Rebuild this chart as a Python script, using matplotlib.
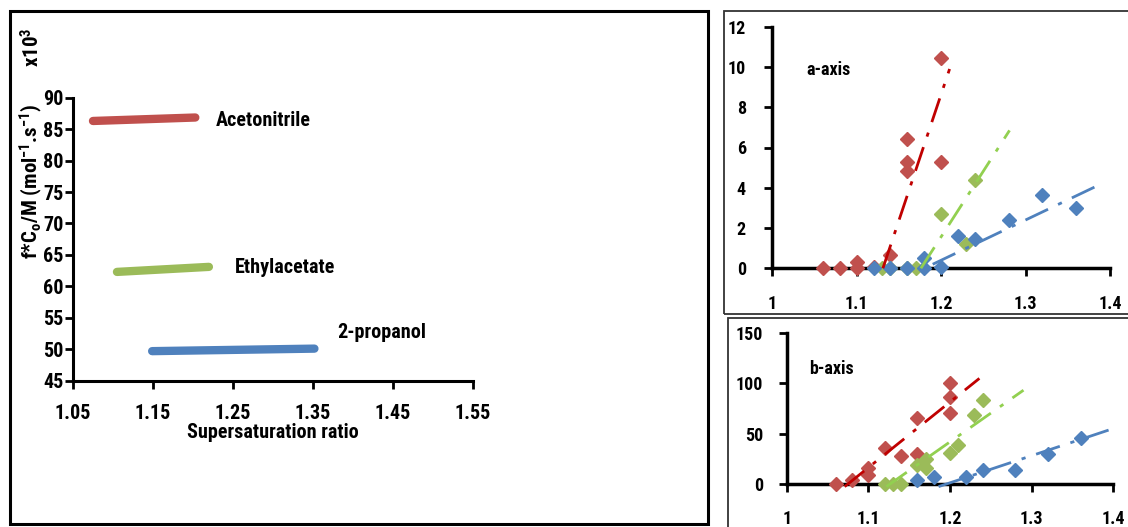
import matplotlib
matplotlib.use("Agg")
import matplotlib.pyplot as plt
from matplotlib.patches import Rectangle

FONT = 'Roboto Condensed'
plt.rcParams['font.family'] = [FONT, 'DejaVu Sans']
plt.rcParams['font.weight'] = 'bold'
plt.rcParams['mathtext.fontset'] = 'custom'
plt.rcParams['mathtext.rm'] = FONT + ':bold'
plt.rcParams['mathtext.it'] = FONT + ':bold'
plt.rcParams['mathtext.bf'] = FONT + ':bold'

# ---------------- data: left panel (fitted lines) ----------------
solvents = ['Acetonitrile', 'Ethylacetate', '2-propanol']
line_x = [[1.075, 1.203], [1.105, 1.220], [1.149, 1.352]]
line_y = [[86.3, 86.85], [62.3, 63.1], [49.7, 50.1]]
label_x = [1.228, 1.253, 1.380]
label_y = [86.3, 63.0, 52.6]
left_xticks = [1.05, 1.15, 1.25, 1.35, 1.45, 1.55]
left_yticks = [45, 50, 55, 60, 65, 70, 75, 80, 85, 90]

# ---------------- data: a-axis ----------------
a_red_x = [1.06, 1.08, 1.10, 1.10, 1.12, 1.14, 1.16, 1.16, 1.16, 1.20, 1.20]
a_red_y = [0.0, 0.0, 0.3, 0.0, 0.05, 0.65, 6.4, 5.3, 4.85, 10.45, 5.3]
a_green_x = [1.13, 1.14, 1.16, 1.17, 1.20, 1.23, 1.24]
a_green_y = [0.0, 0.0, 0.0, 0.0, 2.7, 1.2, 4.4]
a_blue_x = [1.12, 1.14, 1.16, 1.18, 1.18, 1.20, 1.22, 1.24, 1.28, 1.32, 1.36]
a_blue_y = [0.0, 0.0, 0.0, 0.5, 0.0, 0.05, 1.6, 1.45, 2.4, 3.65, 3.0]
a_red_fit_x, a_red_fit_y = [1.131, 1.210], [0.0, 9.9]
a_green_fit_x, a_green_fit_y = [1.176, 1.281], [0.0, 6.85]
a_blue_fit_x, a_blue_fit_y = [1.190, 1.385], [0.2, 4.1]

# ---------------- data: b-axis ----------------
b_red_x = [1.06, 1.08, 1.10, 1.10, 1.12, 1.14, 1.16, 1.16, 1.20, 1.20, 1.20]
b_red_y = [0, 4, 15.5, 9, 36, 27.7, 65, 30, 99.8, 86.6, 70.7]
b_green_x = [1.12, 1.13, 1.14, 1.16, 1.17, 1.17, 1.20, 1.21, 1.23, 1.24]
b_green_y = [0, 0, 0, 18.8, 15.5, 25, 31, 38.7, 68.4, 83]
b_blue_x = [1.16, 1.18, 1.22, 1.24, 1.28, 1.32, 1.36]
b_blue_y = [4, 7.3, 7.3, 13.9, 13.9, 29.7, 45.3]
b_red_fit_x, b_red_fit_y = [1.071, 1.236], [-2.6, 104.7]
b_green_fit_x, b_green_fit_y = [1.122, 1.290], [-2.6, 93]
b_blue_fit_x, b_blue_fit_y = [1.186, 1.400], [-2.6, 55]

right_xticks = [1, 1.1, 1.2, 1.3, 1.4]
right_xticklabels = ['1', '1.1', '1.2', '1.3', '1.4']
a_yticks = [0, 2, 4, 6, 8, 10, 12]
b_yticks = [0, 50, 100, 150]

line_cols = ['#C0504D', '#9BBB59', '#4F81BD']
fit_cols = ['#C00000', '#92D050', '#4F81BD']

W, H = 1128, 527
fig = plt.figure(figsize=(W / 100, H / 100), dpi=100)


def px_axes(l, r, t, b):
    return fig.add_axes([l / W, (H - b) / H, (r - l) / W, (b - t) / H])


# frames
fig.patches.append(Rectangle((10 / W, (H - 524) / H), 698 / W, 513 / H,
                             transform=fig.transFigure, fill=False,
                             lw=2.2, ec='black'))
fig.patches.append(Rectangle((724 / W, (H - 314) / H), 420 / W, 303 / H,
                             transform=fig.transFigure, fill=False,
                             lw=1.3, ec='#333333', clip_on=False))
fig.patches.append(Rectangle((728 / W, (H - 540) / H), 420 / W, 222 / H,
                             transform=fig.transFigure, fill=False,
                             lw=1.3, ec='#333333', clip_on=False))

# ---------------- left panel ----------------
ax = px_axes(73, 472.7, 97.7, 380.7)
for xs, ys, c in zip(line_x, line_y, line_cols):
    ax.plot(xs, ys, color=c, lw=6, solid_capstyle='round')
for name, x, y in zip(solvents, label_x, label_y):
    ax.text(x, y, name, fontsize=14.5, fontweight='bold', va='center', ha='left')
ax.set_xlim(1.05, 1.55)
ax.set_ylim(45, 90)
ax.set_xticks(left_xticks)
ax.set_xticklabels([f'{v:.2f}' for v in left_xticks])
ax.set_yticks(left_yticks)
for s in ['top', 'right']:
    ax.spines[s].set_visible(False)
for s in ['left', 'bottom']:
    ax.spines[s].set_linewidth(2.2)
ax.tick_params(axis='both', labelsize=14.5, width=2, length=6, direction='out')
ax.tick_params(axis='x', pad=11)
ax.tick_params(axis='y', pad=1)
ax.set_xlabel('Supersaturation ratio', fontsize=14.5, fontweight='bold', labelpad=0)
fig.text(31 / W, 1 - 181 / H, r'f*C$_{\rm o}$/M (mol$^{-1}$.s$^{-1}$)',
         rotation=90, ha='center', va='center', fontsize=15, fontweight='bold')
fig.text(32 / W, 1 - 47 / H, r'x10$^{3}$', rotation=90, ha='center',
         va='center', fontsize=15, fontweight='bold')


def style_small(a, yticks, ylim, xpad, ypad):
    a.set_xlim(1, 1.4)
    a.set_ylim(*ylim)
    a.set_xticks(right_xticks)
    a.set_xticklabels(right_xticklabels)
    a.set_yticks(yticks)
    for s in ['top', 'right']:
        a.spines[s].set_visible(False)
    for s in ['left', 'bottom']:
        a.spines[s].set_linewidth(2.5)
    a.tick_params(axis='both', labelsize=13, width=2, length=6, direction='out')
    a.tick_params(axis='x', pad=xpad)
    a.tick_params(axis='y', pad=ypad)


def draw_set(a, sets, fits):
    for (xs, ys), c in zip(sets, line_cols):
        a.plot(xs, ys, ls='none', marker='D', ms=7.5, color=c, mec=c,
               clip_on=False, zorder=3)
    for (xs, ys), c in zip(fits, fit_cols):
        a.plot(xs, ys, color=c, lw=2, dashes=(9, 4, 1.5, 4),
               clip_on=False, zorder=4)


# ---------------- a-axis ----------------
axa = px_axes(772.3, 1110, 26.7, 268.3)
draw_set(axa, [(a_red_x, a_red_y), (a_green_x, a_green_y), (a_blue_x, a_blue_y)],
         [(a_red_fit_x, a_red_fit_y), (a_green_fit_x, a_green_fit_y),
          (a_blue_fit_x, a_blue_fit_y)])
style_small(axa, a_yticks, (0, 12), 13, 13)
axa.text(0.1, 0.82, 'a-axis', transform=axa.transAxes, fontsize=13,
         fontweight='bold', va='center', ha='left')

# ---------------- b-axis ----------------
axb = px_axes(786.7, 1113.3, 332.7, 484)
draw_set(axb, [(b_red_x, b_red_y), (b_green_x, b_green_y), (b_blue_x, b_blue_y)],
         [(b_red_fit_x, b_red_fit_y), (b_green_fit_x, b_green_fit_y),
          (b_blue_fit_x, b_blue_fit_y)])
style_small(axb, b_yticks, (0, 150), 13, 11)
axb.text(0.07, 0.76, 'b-axis', transform=axb.transAxes, fontsize=13,
         fontweight='bold', va='center', ha='left')

fig.savefig('out.png', dpi=100)
